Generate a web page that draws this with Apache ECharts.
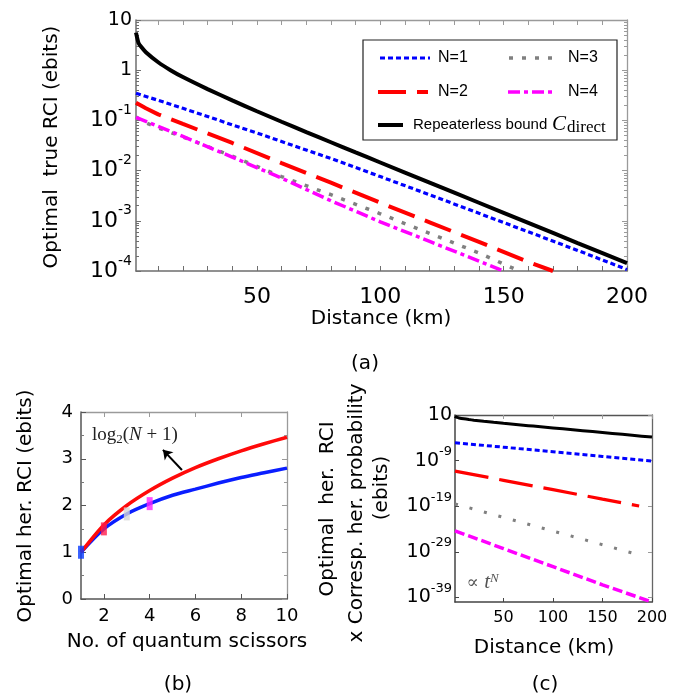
<!DOCTYPE html>
<html><head><meta charset="utf-8">
<script src="https://cdn.jsdelivr.net/npm/echarts@6/dist/echarts.min.js"></script>
<style>html,body{margin:0;padding:0;background:#fff}#c{width:681px;height:694px}</style>
</head><body><div id="c"></div>
<script>
// ---------------- data ----------------
// panel (a): optimal true RCI vs distance (km)
const distA = [1,2,3,5,10,15,20,30,40,50,60,70,80,90,100,120,140,160,180,200];
const repeaterless = [5.6,3.5,2.95,2.28,1.44,1.0,0.73,0.42,0.25,0.152,0.094,0.0586,0.0367,0.023,0.0145,0.00576,0.00229,0.00091,0.00036,0.000144];
const distN1 = [1,10,20,30,40,50,60,70,80,90,100,120,140,160,180,200];
const trueN1 = [0.347,0.251,0.174,0.120,0.0813,0.0562,0.0380,0.0257,0.0174,0.0115,0.00759,0.00331,0.00141,0.000603,0.000257,0.000107];
const distN2 = [1,5,10,20,40,60,80,100,120,140,160,170];
const trueN2 = [0.224,0.174,0.132,0.0851,0.0355,0.0141,0.00575,0.00229,0.000933,0.00038,0.000151,0.0001];
const distN3 = [1,5,10,20,40,60,80,100,120,140,155];
const trueN3 = [0.117,0.089,0.0708,0.0468,0.0195,0.00759,0.00331,0.00138,0.000562,0.000229,0.000107];
const distN4 = [1,10,20,40,60,80,100,120,140,150];
const trueN4 = [0.115,0.0759,0.0479,0.0186,0.00708,0.00251,0.000955,0.000389,0.000158,0.0001];
const xLabelsA = [50,100,150,200];
const xTicksA = [10,20,30,40,50,60,70,80,90,100,110,120,130,140,150,160,170,180,190,200];

// panel (b): optimal heralded RCI vs number of quantum scissors
const scissors = [1,2,3,4,5,6,7,8,9,10];
const herRCI = [1.0,1.5,1.82,2.04,2.22,2.35,2.48,2.6,2.7,2.8];
const log2Bound = [1.0,1.585,2.0,2.32,2.585,2.81,3.0,3.17,3.32,3.46];
const markerN = [1,2,3,4];
const markerVal = [1.0,1.5,1.82,2.04];
const markerColors = ['#0a3cff','#ff1a4a','#d4d4d4','#ff22ff'];
const xLabelsB = [2,4,6,8,10];

// panel (c): heralded RCI x heralding probability vs distance
const distC = [1,50,100,150,200];
const probN1 = [8.5e-6,8.7e-7,8.5e-8,8.3e-9,8.1e-10];
const distC2 = [1,50,100,150,187];
const probN2 = [5.0e-12,4.8e-14,4.2e-16,3.6e-18,1.1e-19];
const distC3 = [1,50,100,150,190];
const probN3 = [3.2e-19,3.6e-22,3.6e-25,3.6e-28,1.4e-30];
const probN4 = [4.0e-25,5.1e-29,5.5e-33,5.9e-37,1.0e-40];
const xLabelsC = [50,100,150,200];
const yExpLabelsC = [1,-9,-19,-29,-39];

// ---------------- helpers ----------------
const FS = 'DejaVu Sans';
const gA = '#6e6e6e', gB = '#9a9a9a';
const pairs = (xs, ys) => xs.map((x, i) => [x, ys[i]]);
const logPairs = (xs, ys) => xs.map((x, i) => [x, Math.log10(ys[i])]);
const minorLog = [];
for (let d = -4; d < 1; d++) for (let k = 2; k <= 9; k++) minorLog.push(d + Math.log10(k));

const chart = echarts.init(document.getElementById('c'), null, {renderer: 'canvas'});

const rich = (base, sup, plain) => ({
  p: {fontSize: plain, fontFamily: FS, color: '#000'},
  b: {fontSize: base, fontFamily: FS, color: '#000', lineHeight: base + 12},
  s: {fontSize: sup, fontFamily: FS, color: '#000', lineHeight: sup, verticalAlign: 'top'}
});
const aLine = (color, w) => ({show: true, onZero: false, lineStyle: {color: color, width: w}});

const option = {
  animation: false,
  backgroundColor: '#fff',
  grid: [
    {left: 136, top: 20, width: 491, height: 251},
    {left: 81, top: 412, width: 206, height: 187},
    {left: 455, top: 415, width: 197, height: 187}
  ],
  xAxis: [
    {gridIndex: 0, type: 'value', min: 1, max: 200, position: 'bottom',
      axisLine: aLine(gA, 1.5),
      axisTick: {inside: true, length: 5, customValues: xTicksA, lineStyle: {color: gA}},
      axisLabel: {customValues: xLabelsA, fontSize: 22, fontFamily: FS, color: '#000', margin: 15},
      splitLine: {show: false}},
    {gridIndex: 0, type: 'value', min: 1, max: 200, position: 'top',
      axisLine: aLine(gB, 1.3),
      axisTick: {inside: true, length: 5, customValues: xTicksA, lineStyle: {color: gB}},
      axisLabel: {show: false}, splitLine: {show: false}},
    {gridIndex: 1, type: 'value', min: 1, max: 10, position: 'bottom',
      axisLine: aLine('#555', 1.5),
      axisTick: {inside: true, length: 5, customValues: xLabelsB, lineStyle: {color: '#555'}},
      axisLabel: {customValues: xLabelsB, fontSize: 18, fontFamily: FS, color: '#000', margin: 8},
      splitLine: {show: false}},
    {gridIndex: 1, type: 'value', min: 1, max: 10, position: 'top',
      axisLine: aLine(gB, 1.3),
      axisTick: {inside: true, length: 5, customValues: xLabelsB, lineStyle: {color: gB}},
      axisLabel: {show: false}, splitLine: {show: false}},
    {gridIndex: 2, type: 'value', min: 1, max: 200, position: 'bottom',
      axisLine: aLine('#444', 1.5),
      axisTick: {inside: true, length: 4, customValues: xLabelsC, lineStyle: {color: '#444'}},
      axisLabel: {customValues: xLabelsC, fontSize: 16, fontFamily: FS, color: '#000', margin: 8},
      splitLine: {show: false}},
    {gridIndex: 2, type: 'value', min: 1, max: 200, position: 'top',
      axisLine: aLine('#555', 1.3),
      axisTick: {inside: true, length: 4, customValues: xLabelsC, lineStyle: {color: gB}},
      axisLabel: {show: false}, splitLine: {show: false}}
  ],
  yAxis: [
    {gridIndex: 0, type: 'log', logBase: 10, min: 1e-4, max: 10, interval: 1, position: 'left',
      axisLine: aLine(gA, 1.5),
      axisTick: {show: true, inside: true, length: 5, lineStyle: {color: gA}},
      axisLabel: {margin: 4, formatter: v => {
        const e = Math.round(Math.log10(v));
        if (e === 1) return '{p|10}';
        if (e === 0) return '{p|1}';
        return '{b|10}{s|' + e + '}';
      }, rich: rich(22, 14, 19)},
      splitLine: {show: false}},
    {gridIndex: 0, type: 'log', logBase: 10, min: 1e-4, max: 10, interval: 1, position: 'right',
      axisLine: aLine(gB, 1.3),
      axisTick: {show: true, inside: true, length: 5, lineStyle: {color: gB}},
      axisLabel: {show: false}, splitLine: {show: false}},
    {gridIndex: 0, type: 'value', min: -4, max: 1, position: 'left',
      axisLine: {show: false, onZero: false}, axisLabel: {show: false}, splitLine: {show: false},
      axisTick: {show: true, inside: true, length: 3, customValues: minorLog, lineStyle: {color: gA}}},
    {gridIndex: 0, type: 'value', min: -4, max: 1, position: 'right',
      axisLine: {show: false, onZero: false}, axisLabel: {show: false}, splitLine: {show: false},
      axisTick: {show: true, inside: true, length: 3, customValues: minorLog, lineStyle: {color: gB}}},
    {gridIndex: 1, type: 'value', min: 0, max: 4, interval: 1, position: 'left',
      axisLine: aLine('#555', 1.5),
      axisTick: {show: true, inside: true, length: 5, lineStyle: {color: '#555'}},
      minorTick: {show: true, splitNumber: 2, length: 3, lineStyle: {color: '#777'}},
      axisLabel: {fontSize: 18, fontFamily: FS, color: '#000', margin: 8},
      splitLine: {show: false}},
    {gridIndex: 1, type: 'value', min: 0, max: 4, interval: 1, position: 'right',
      axisLine: aLine(gB, 1.3),
      axisTick: {show: true, inside: true, length: 5, lineStyle: {color: gB}},
      minorTick: {show: true, splitNumber: 2, length: 3, lineStyle: {color: gB}},
      axisLabel: {show: false}, splitLine: {show: false}},
    {gridIndex: 2, type: 'value', min: -40, max: 1, position: 'left',
      axisLine: aLine('#444', 1.5),
      axisTick: {show: true, inside: true, length: 4, customValues: yExpLabelsC, lineStyle: {color: '#444'}},
      axisLabel: {customValues: yExpLabelsC, margin: 3, formatter: v => v === 1 ? '{p|10}' : '{b|10}{s|' + v + '}',
        rich: rich(19, 13, 19)},
      splitLine: {show: false}},
    {gridIndex: 2, type: 'value', min: -40, max: 1, position: 'right',
      axisLine: aLine('#666', 1.3),
      axisTick: {show: true, inside: true, length: 4, customValues: yExpLabelsC, lineStyle: {color: gB}},
      axisLabel: {show: false}, splitLine: {show: false}}
  ],
  series: [
    // panel (a)
    {name: 'N=1', type: 'line', xAxisIndex: 0, yAxisIndex: 0, symbol: 'none', data: pairs(distN1, trueN1),
      lineStyle: {color: '#0000ff', width: 3.2, type: [5, 3]}},
    {name: 'N=2', type: 'line', xAxisIndex: 0, yAxisIndex: 0, symbol: 'none', data: pairs(distN2, trueN2),
      lineStyle: {color: '#ff0000', width: 4, type: [28, 11]}},
    {name: 'N=3', type: 'line', xAxisIndex: 0, yAxisIndex: 0, symbol: 'none', data: pairs(distN3, trueN3),
      lineStyle: {color: '#808080', width: 3.5, type: [4, 9]}},
    {name: 'N=4', type: 'line', xAxisIndex: 0, yAxisIndex: 0, symbol: 'none', data: pairs(distN4, trueN4),
      lineStyle: {color: '#ff00ff', width: 3.5, type: [12, 4, 4, 4]}},
    {name: 'Repeaterless bound', type: 'line', xAxisIndex: 0, yAxisIndex: 0, symbol: 'none', smooth: 0.2,
      data: pairs(distA, repeaterless), lineStyle: {color: '#000', width: 4}},
    // panel (b)
    {name: 'her. RCI', type: 'line', xAxisIndex: 2, yAxisIndex: 4, symbol: 'none', smooth: 0.3,
      data: pairs(scissors, herRCI), lineStyle: {color: '#0a1eff', width: 3.5}},
    {name: 'log2(N+1)', type: 'line', xAxisIndex: 2, yAxisIndex: 4, symbol: 'none', smooth: 0.3,
      data: pairs(scissors, log2Bound), lineStyle: {color: '#ff0a0a', width: 3.5},
      markLine: {silent: true, symbol: ['none', 'arrow'], symbolSize: 9, label: {show: false},
        lineStyle: {color: '#000', width: 2, type: 'solid'},
        data: [[{coord: [5.41, 2.76]}, {coord: [4.58, 3.19]}]]}},
    {name: 'markers', type: 'scatter', xAxisIndex: 2, yAxisIndex: 4, symbol: 'rect', symbolSize: [6, 13], z: 5,
      data: markerN.map((n, i) => ({value: [n, markerVal[i]], itemStyle: {color: markerColors[i]}}))},
    // panel (c)
    {type: 'line', xAxisIndex: 4, yAxisIndex: 6, symbol: 'none', smooth: 0.2, data: logPairs(distA, repeaterless),
      lineStyle: {color: '#000', width: 3}},
    {type: 'line', xAxisIndex: 4, yAxisIndex: 6, symbol: 'none', data: logPairs(distC, probN1),
      lineStyle: {color: '#0000ff', width: 3, type: [5, 3]}},
    {type: 'line', xAxisIndex: 4, yAxisIndex: 6, symbol: 'none', data: logPairs(distC2, probN2),
      lineStyle: {color: '#ff0000', width: 3.2, type: [34, 11]}},
    {type: 'line', xAxisIndex: 4, yAxisIndex: 6, symbol: 'none', data: logPairs(distC3, probN3),
      lineStyle: {color: '#808080', width: 3, type: [3, 12]}},
    {type: 'line', xAxisIndex: 4, yAxisIndex: 6, symbol: 'none', data: logPairs(distC, probN4),
      lineStyle: {color: '#ff00ff', width: 3.5, type: [10, 4]}}
  ]
};
chart.setOption(option);

// ---------------- texts, legend and annotations ----------------
const t = (x, y, text, size, rot, extra) => Object.assign({type: 'text', x: x, y: y, rotation: rot || 0, z: 100,
  style: Object.assign({text: text, fontSize: size, fontFamily: FS, fill: '#000', align: 'center', verticalAlign: 'middle'}, extra || {})});
const ln = (x1, y1, x2, y2, color, w, dash) => ({type: 'line', z: 101, shape: {x1: x1, y1: y1, x2: x2, y2: y2},
  style: {stroke: color, lineWidth: w, lineDash: dash || null}});
const LF = 'Liberation Sans';
const lt = (x, y, text, size) => ({type: 'text', x: x, y: y, z: 101,
  style: {text: text, fontSize: size || 16, fontFamily: LF, fill: '#000', align: 'left', verticalAlign: 'middle'}});

const pB = chart.convertToPixel({xAxisIndex: 2, yAxisIndex: 4}, [1.48, 3.51]);
const pC = chart.convertToPixel({xAxisIndex: 4, yAxisIndex: 6}, [12.5, -35.8]);

const graphic = [
  t(52, 147, 'Optimal  true RCI (ebits)', 20, Math.PI / 2),
  t(381, 319, 'Distance (km)', 20),
  t(365, 364, '(a)', 20),
  t(26, 506, 'Optimal her. RCI (ebits)', 20, Math.PI / 2),
  t(187, 642, 'No. of quantum scissors', 20),
  t(178, 685, '(b)', 20),
  t(328, 509, 'Optimal  her.  RCI', 20, Math.PI / 2),
  t(357, 513, 'x Corresp. her. probability', 20, Math.PI / 2),
  t(382, 488, '(ebits)', 20, Math.PI / 2),
  t(544, 648, 'Distance (km)', 20),
  t(545, 685, '(c)', 20),
  // legend of (a)
  {type: 'rect', z: 100, shape: {x: 363, y: 40, width: 254, height: 100},
    style: {fill: '#fff', stroke: '#222', lineWidth: 1.2}},
  ln(380, 58, 430, 58, '#0000ff', 3.2, [5, 3]), lt(438, 58, 'N=1'),
  ln(509, 58, 559, 58, '#808080', 3.5, [4, 9]), lt(568, 58, 'N=3'),
  ln(378, 92, 428, 92, '#ff0000', 4, [28, 11]), lt(438, 92, 'N=2'),
  ln(508, 92, 555, 92, '#ff00ff', 3.5, [12, 4, 4, 4]), lt(568, 92, 'N=4'),
  ln(378, 125, 403, 125, '#000', 4), lt(413, 125, 'Repeaterless bound', 15),
  {type: 'text', x: 552, y: 124, z: 101, style: {text: 'C', fontSize: 21, fontFamily: 'Liberation Serif', fontStyle: 'italic',
    fill: '#000', align: 'left', verticalAlign: 'middle'}},
  {type: 'text', x: 567, y: 128, z: 101, style: {text: 'direct', fontSize: 17, fontFamily: 'Liberation Serif',
    fill: '#000', align: 'left', verticalAlign: 'middle'}},
  // annotation of (b)
  {type: 'text', x: pB[0], y: pB[1], z: 101, style: {
    text: '{r|log}{sub|2}{r|(}{it|N}{r| + 1)}', align: 'left', verticalAlign: 'middle',
    rich: {
      r: {fontSize: 19, fontFamily: 'Liberation Serif', fill: '#222', lineHeight: 22},
      it: {fontSize: 19, fontFamily: 'Liberation Serif', fontStyle: 'italic', fill: '#222', lineHeight: 22},
      sub: {fontSize: 13, fontFamily: 'Liberation Serif', fill: '#222', lineHeight: 12, verticalAlign: 'bottom'}
    }}},
  // annotation of (c)
  {type: 'text', x: pC[0], y: pC[1], z: 101, style: {
    text: '{r|\u221D }{it|t}{sup|N}', align: 'left', verticalAlign: 'middle',
    rich: {
      r: {fontSize: 18, fontFamily: 'DejaVu Serif', fill: '#555', lineHeight: 22},
      it: {fontSize: 21, fontFamily: 'Liberation Serif', fontStyle: 'italic', fill: '#555', lineHeight: 22},
      sup: {fontSize: 13, fontFamily: 'Liberation Serif', fontStyle: 'italic', fill: '#555', lineHeight: 12, verticalAlign: 'top'}
    }}}
];
chart.setOption({graphic: graphic});
</script>
</body></html>
